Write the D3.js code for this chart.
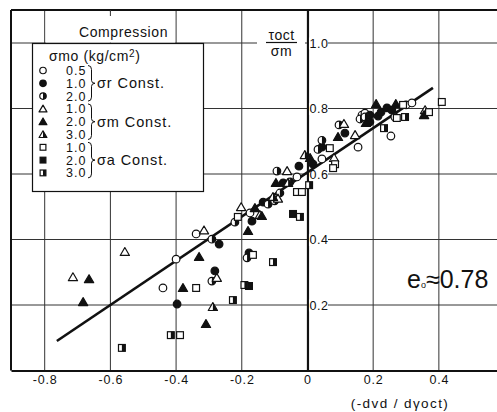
<!DOCTYPE html>
<html><head><meta charset="utf-8">
<script src="https://cdn.jsdelivr.net/npm/d3@7"></script>
<style>html,body{margin:0;padding:0;background:#fff;} svg{display:block;font-family:"Liberation Sans",Arial,sans-serif;}</style>
</head><body><svg id="c" width="497" height="412"></svg>
<script>
// ---- data ----
const xTicks = [-0.8, -0.6, -0.4, -0.2, 0, 0.2, 0.4];
const xTickLabels = ["-0.8", "-0.6", "-0.4", "-0.2", "0", "0.2", "0.4"];
const yTicks = [0.2, 0.4, 0.6, 0.8, 1.0];
const yTickLabels = ["0.2", "0.4", "0.6", "0.8", "1.0"];
const legendValues = ["0.5", "1.0", "2.0", "1.0", "2.0", "3.0", "1.0", "2.0", "3.0"];
const groupLabels = ["σr Const.", "σm Const.", "σa Const."];

const sigR05 = [[-0.440,0.252],[-0.400,0.340],[-0.339,0.417],[-0.175,0.481],[-0.032,0.591],[0.044,0.646],[0.154,0.682],[0.166,0.780],[0.175,0.786],[0.254,0.716],[0.266,0.774],[0.300,0.811],[0.318,0.817]];
const sigR10 = [[-0.397,0.203],[-0.269,0.386],[-0.282,0.304],[-0.178,0.359],[-0.169,0.456],[-0.135,0.514],[-0.074,0.573],[-0.026,0.624],[0.017,0.630],[0.044,0.682],[0.114,0.725],[0.190,0.759],[0.190,0.780],[0.215,0.777],[0.224,0.789],[0.242,0.802],[0.257,0.795]];
const sigR20 = [[-0.291,0.401],[-0.291,0.273],[-0.221,0.453],[-0.184,0.344],[-0.120,0.508],[-0.100,0.518],[-0.084,0.542],[-0.093,0.609],[-0.053,0.576],[0.032,0.675],[0.044,0.703],[0.096,0.750],[0.160,0.768],[0.175,0.774]];
const sigM10 = [[-0.714,0.285],[-0.556,0.362],[-0.315,0.428],[-0.276,0.283],[-0.202,0.499],[-0.145,0.475],[-0.090,0.525],[-0.062,0.609],[0.081,0.649],[0.111,0.753],[0.145,0.719],[0.358,0.795]];
const sigM20 = [[-0.665,0.279],[-0.683,0.209],[-0.379,0.252],[-0.330,0.347],[-0.309,0.142],[-0.181,0.426],[-0.160,0.496],[-0.139,0.472],[-0.096,0.573],[0.008,0.649],[0.093,0.713],[0.178,0.756],[0.209,0.814],[0.269,0.814],[0.355,0.780]];
const sigM30 = [[-0.288,0.194],[-0.105,0.530],[-0.059,0.573],[-0.008,0.658]];
const sigA10 = [[-0.388,0.108],[-0.339,0.252],[-0.212,0.469],[-0.166,0.353],[-0.032,0.545],[-0.017,0.545],[0.068,0.679],[0.084,0.630],[0.078,0.618],[0.272,0.771],[0.291,0.811],[0.370,0.789],[0.409,0.820]];
const sigA20 = [[-0.178,0.258],[-0.044,0.478]];
const sigA30 = [[-0.565,0.069],[-0.416,0.108],[-0.227,0.215],[-0.192,0.261],[-0.105,0.331],[-0.023,0.469],[0.005,0.566],[0.233,0.740],[0.297,0.774]];
const fitLine = [[-0.763,0.090],[0.382,0.863]];

// ---- setup ----
const svg = d3.select("#c");
const x = d3.scaleLinear().domain([-0.9026, 0.577]).range([11, 497]);
const y = d3.scaleLinear().domain([0, 1.1008]).range([370.5, 10]);
const ink = "#111";

const series = [
  {data: sigR05, shape: "circle", fill: "open"},
  {data: sigR10, shape: "circle", fill: "full"},
  {data: sigR20, shape: "circle", fill: "half"},
  {data: sigM10, shape: "tri", fill: "open"},
  {data: sigM20, shape: "tri", fill: "full"},
  {data: sigM30, shape: "tri", fill: "half"},
  {data: sigA10, shape: "sq", fill: "open"},
  {data: sigA20, shape: "sq", fill: "full"},
  {data: sigA30, shape: "sq", fill: "half"}
];

function sym(g, shape, fill, cx, cy, k) {
  const sw = 1.2;
  const base = fill === "full" ? ink : "#fff";
  if (shape === "circle") {
    const r = 3.8 * k;
    g.append("circle").attr("cx", cx).attr("cy", cy).attr("r", r)
      .attr("fill", base).attr("stroke", ink).attr("stroke-width", sw);
    if (fill === "half") g.append("path")
      .attr("d", `M${cx},${cy - r}A${r},${r} 0 0 1 ${cx},${cy + r}Z`).attr("fill", ink);
  } else if (shape === "tri") {
    const s = 4.4 * k;
    const p = [[cx, cy - s], [cx - s * 1.05, cy + s * 0.8], [cx + s * 1.05, cy + s * 0.8]];
    g.append("path").attr("d", "M" + p.join("L") + "Z")
      .attr("fill", base).attr("stroke", ink).attr("stroke-width", sw).attr("stroke-linejoin", "round");
    if (fill === "half") g.append("path")
      .attr("d", `M${cx},${cy - s}L${cx + s * 1.05},${cy + s * 0.8}L${cx},${cy + s * 0.8}Z`).attr("fill", ink);
  } else {
    const s = 3.4 * k;
    g.append("rect").attr("x", cx - s).attr("y", cy - s).attr("width", 2 * s).attr("height", 2 * s)
      .attr("fill", base).attr("stroke", ink).attr("stroke-width", sw);
    if (fill === "half") g.append("rect").attr("x", cx).attr("y", cy - s).attr("width", s).attr("height", 2 * s).attr("fill", ink);
  }
}

// ---- grid ----
const grid = svg.append("g").attr("stroke", "#333").attr("stroke-width", 1);
xTicks.filter(d => d !== 0).forEach(d => {
  grid.append("line").attr("x1", x(d)).attr("x2", x(d)).attr("y1", y(1.1008)).attr("y2", y(0));
});
yTicks.forEach(d => {
  grid.append("line").attr("x1", x(-0.9026)).attr("x2", 497).attr("y1", y(d)).attr("y2", y(d));
});

// frame
svg.append("line").attr("x1", x(-0.9026)).attr("x2", x(-0.9026)).attr("y1", y(1.1008)).attr("y2", y(0))
  .attr("stroke", ink).attr("stroke-width", 2);
svg.append("line").attr("x1", x(-0.9026)).attr("x2", 497).attr("y1", y(1.1008)).attr("y2", y(1.1008))
  .attr("stroke", ink).attr("stroke-width", 2);

// Compression header cell
svg.append("rect").attr("x", x(-0.8) + 1).attr("y", y(1.1008) + 1.5)
  .attr("width", x(-0.4) - x(-0.8) - 2).attr("height", y(1.0) - y(1.1008) - 2).attr("fill", "#fff");
svg.append("line").attr("x1", x(-0.6)).attr("x2", x(-0.6)).attr("y1", y(1.1008)).attr("y2", y(1.1008) + 6)
  .attr("stroke", "#333");
svg.append("text").attr("x", 123.5).attr("y", 37).attr("text-anchor", "middle")
  .attr("font-size", 14).attr("letter-spacing", 0.6).attr("fill", ink).text("Compression");

// ---- axes ----
const xAxis = d3.axisBottom(x).tickValues(xTicks).tickSize(0).tickSizeOuter(0).tickPadding(5)
  .tickFormat((d, i) => xTickLabels[i]);
const gx = svg.append("g").attr("transform", `translate(0,${y(0)})`).call(xAxis);
gx.select(".domain").attr("stroke", ink).attr("stroke-width", 2.2);
gx.selectAll("text").attr("font-size", 12.5).attr("fill", ink).attr("letter-spacing", 0.8)
  .attr("font-family", "'Liberation Sans',Arial,sans-serif");

const yAxis = d3.axisRight(y).tickValues(yTicks).tickSize(0).tickSizeOuter(0).tickPadding(2)
  .tickFormat((d, i) => yTickLabels[i]);
const gy = svg.append("g").attr("transform", `translate(${x(0)},0)`).call(yAxis);
gy.select(".domain").attr("stroke", ink).attr("stroke-width", 2.2);
gy.selectAll(".tick").insert("rect", "text").attr("x", 1.5).attr("y", -6).attr("width", 19).attr("height", 12).attr("fill", "#fff");
gy.selectAll("text").attr("font-size", 12.5).attr("fill", ink).attr("letter-spacing", 0.5)
  .attr("font-family", "'Liberation Sans',Arial,sans-serif");

// y title tau_oct / sigma_m
svg.append("rect").attr("x", 257).attr("y", 27).attr("width", 48).attr("height", 32).attr("fill", "#fff");
svg.append("text").attr("x", 281.5).attr("y", 40).attr("text-anchor", "middle").attr("font-size", 14).attr("letter-spacing", 0.5).attr("fill", ink).text("τoct");
svg.append("line").attr("x1", 266).attr("x2", 297).attr("y1", 42.5).attr("y2", 42.5).attr("stroke", ink).attr("stroke-width", 1.2);
svg.append("text").attr("x", 281.5).attr("y", 55.5).attr("text-anchor", "middle").attr("font-size", 14).attr("letter-spacing", 0.5).attr("fill", ink).text("σm");

// ---- legend ----
const lg = svg.append("g");
lg.append("rect").attr("x", 32.5).attr("y", 43.5).attr("width", 171).attr("height", 148)
  .attr("fill", "#fff").attr("stroke", ink).attr("stroke-width", 1.2);
const hdr = lg.append("text").attr("x", 49).attr("y", 60.5).attr("font-size", 14).attr("letter-spacing", 0.6).attr("fill", ink);
hdr.append("tspan").text("σmo (kg/cm");
hdr.append("tspan").attr("font-size", 10).attr("dy", -4).text("2");
hdr.append("tspan").attr("dy", 4).text(")");
const rowY = i => 70.5 + i * 12.8;
series.forEach((s, i) => {
  sym(lg, s.shape, s.fill, 43, rowY(i), 0.85);
  lg.append("text").attr("x", 86.5).attr("y", rowY(i) + 4.5).attr("text-anchor", "end")
    .attr("font-size", 12.5).attr("letter-spacing", 1).attr("fill", ink).text(legendValues[i]);
});
groupLabels.forEach((t, gi) => {
  const y0 = rowY(gi * 3) - 5, y1 = rowY(gi * 3 + 2) + 5, ym = (y0 + y1) / 2, bx = 88, w = 3.5;
  lg.append("path")
    .attr("d", `M${bx},${y0}Q${bx + w},${y0} ${bx + w},${y0 + 4}L${bx + w},${ym - 3}Q${bx + w},${ym} ${bx + 2 * w},${ym}Q${bx + w},${ym} ${bx + w},${ym + 3}L${bx + w},${y1 - 4}Q${bx + w},${y1} ${bx},${y1}`)
    .attr("fill", "none").attr("stroke", ink).attr("stroke-width", 1);
  lg.append("text").attr("x", 97).attr("y", ym + 5).attr("font-size", 14.5).attr("letter-spacing", 0.9)
    .attr("fill", ink).text(t);
});

// ---- fit line ----
svg.append("path").datum(fitLine)
  .attr("d", d3.line().x(d => x(d[0])).y(d => y(d[1])))
  .attr("stroke", ink).attr("stroke-width", 2.6).attr("fill", "none");

// ---- points ----
const pg = svg.append("g");
series.forEach(s => s.data.forEach(d => sym(pg, s.shape, s.fill, x(d[0]), y(d[1]), 1)));

// ---- annotations ----
const e0 = svg.append("text").attr("x", 407).attr("y", 288).attr("font-size", 25).attr("fill", ink);
e0.append("tspan").text("e");
e0.append("tspan").attr("font-size", 9).text("o");
e0.append("tspan").text("≈0.78");

svg.append("text").attr("x", 400).attr("y", 407.5).attr("text-anchor", "middle").attr("font-size", 13.5)
  .attr("letter-spacing", 1.4).attr("fill", ink).text("(-dvd / dγoct)");
</script></body></html>
